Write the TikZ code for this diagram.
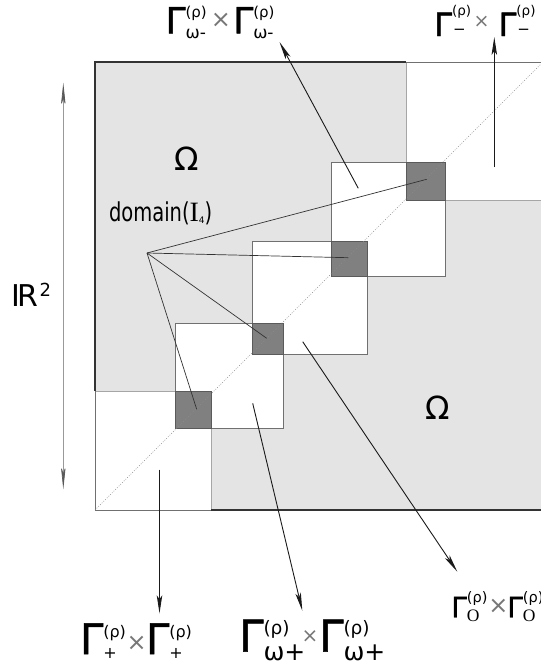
\documentclass[tikz,border=0pt]{standalone}
\usepackage{fontspec}
\setmainfont{DejaVu Sans}
\newfontfamily\dfont[FakeStretch=0.75]{DejaVu Sans}
\newfontfamily\gfont[FakeBold=1.2]{DejaVu Sans}
\newfontfamily\serfont{Liberation Serif}
\usetikzlibrary{arrows.meta}
\definecolor{regiongray}{HTML}{E4E4E4}
\definecolor{darksq}{HTML}{808080}
\definecolor{edgegray}{HTML}{707070}
\definecolor{xgray}{HTML}{777777}
\definecolor{inkline}{HTML}{1A1A1A}

\newcommand\Gsym[1]{{\gfont\fontsize{#1}{#1}\selectfont Γ}}
% #1 Gamma size, #2 sup size, #3 sup raise, #4 sub content, #5 sub size, #6 sub raise
\newcommand\GRho[6]{\Gsym{#1}%
  \setbox0\hbox{\raisebox{#3}{\fontsize{#2}{#2}\selectfont (ρ)}}%
  \setbox2\hbox{\raisebox{#6}{\fontsize{#5}{#5}\selectfont #4}}%
  \ifdim\wd0>\wd2 \rlap{\copy2}\copy0 \else \rlap{\copy0}\copy2 \fi}
\newcommand\Xs[1]{{\fontsize{#1}{#1}\selectfont\color{xgray}×}}

\begin{document}
\begin{tikzpicture}[x=1pt,y=-1pt,
  txt/.style={inner sep=0pt, outer sep=0pt, anchor=base west},
  sqbox/.style={fill=white, draw=edgegray, line width=0.9pt},
  darkbox/.style={fill=darksq, draw=edgegray!80!black, line width=0.9pt},
  border/.style={draw=black!80, line width=1.3pt},
  lightborder/.style={draw=edgegray, line width=0.9pt},
  seam/.style={draw=black!35, line width=0.8pt},
  focal/.style={draw=black!80, line width=0.7pt},
  pointer/.style={draw=inkline, line width=0.9pt, -{Stealth[length=18pt,width=5.5pt,inset=4pt]}},
  dimarrow/.style={draw=black!40, line width=0.7pt,
     {Stealth[length=24pt,width=5pt,inset=8pt,color=black!65]}-{Stealth[length=24pt,width=5pt,inset=8pt,color=black!65]}}
]
\useasboundingbox (0,0) rectangle (541,667);
\clip (0,0) rectangle (541,667);

% regions
\fill[regiongray] (95,62) rectangle (543,510);
\fill[white] (406,62) rectangle (543,200);
\fill[white] (95,391) rectangle (211,510);
\draw[seam] (406,62) -- (406,162);
\draw[seam] (445,200) -- (543,200);
\draw[seam] (95,391) -- (175,391);
\draw[seam] (211,428) -- (211,510);

% outer border
\draw[border] (406,62) -- (95,62) -- (95,391);
\draw[border] (211,510) -- (543,510);
\draw[lightborder] (406,62) -- (543,62);
\draw[lightborder] (95,391) -- (95,510) -- (211,510);

% white squares
\draw[sqbox] (175,323) rectangle (283,428);
\draw[sqbox] (252,241) rectangle (367,354);
\draw[sqbox] (331,162) rectangle (445,276);

% dark intersections
\draw[darkbox] (406,162) rectangle (445,200);
\draw[darkbox] (331,241) rectangle (367,276);
\draw[darkbox] (252,323) rectangle (283,354);
\draw[darkbox] (175,391) rectangle (211,428);

% diagonal
\coordinate (dg0) at (95,510);
\coordinate (dg1) at (543,62);
\draw[black!45, line width=0.6pt, dash pattern=on 0.8pt off 1.6pt] (dg0) -- (dg1);

% focal lines
\coordinate (f) at (147,253);
\coordinate (e1) at (426.7,179.3);
\coordinate (e2) at (348.3,257.7);
\coordinate (e3) at (266.7,338.3);
\coordinate (e4) at (196.7,409.3);
\draw[focal] (f) -- (e1);
\draw[focal] (f) -- (e2);
\draw[focal] (f) -- (e3);
\draw[focal] (f) -- (e4);

% pointer arrows
\coordinate (s1) at (358.3,188.3); \coordinate (t1) at (279.5,42);
\coordinate (s2) at (494.3,167);   \coordinate (t2) at (494.3,37);
\coordinate (s3) at (159.5,469.5); \coordinate (t3) at (159.5,613.3);
\coordinate (s4) at (252.7,403.3); \coordinate (t4) at (302.3,610.7);
\coordinate (s5) at (302.7,341.7); \coordinate (t5) at (457.3,571.7);
\draw[pointer] (s1) -- (t1);
\draw[pointer] (s2) -- (t2);
\draw[pointer] (s3) -- (t3);
\draw[pointer] (s4) -- (t4);
\draw[pointer] (s5) -- (t5);

% R^2 dimension arrow
\coordinate (rt) at (63.3,82.7);
\coordinate (rb) at (63.3,489.3);
\draw[dimarrow] (rt) -- (rb);

% texts
\node[txt] (R2) at (12,306.7) {{\fontsize{30}{30}\selectfont I\kern-3pt R}\kern1pt\raisebox{10.7pt}{\fontsize{18}{18}\selectfont 2}};
\node[inner sep=0pt] (om1) at (186.3,159) {\fontsize{32}{32}\selectfont Ω};
\node[inner sep=0pt] (om2) at (437.5,407.5) {\fontsize{32}{32}\selectfont Ω};
\node[txt] (dom) at (109,221.7) {{\dfont\fontsize{26}{26}\selectfont domain(}{\serfont\fontsize{28}{28}\selectfont I}\raisebox{-2pt}{\fontsize{9}{9}\selectfont 4}{\dfont\fontsize{26}{26}\selectfont )}};

% label 1: omega-
\node[txt] (l1a) at (165.5,33.3) {\GRho{36}{15}{15.5pt}{ω-}{17}{-4.7pt}};
\node[inner sep=0pt] (l1x) at (221,20) {\Xs{24}};
\node[txt] (l1b) at (233.2,33.3) {\GRho{36}{15}{15.5pt}{ω-}{17}{-4.7pt}};
% label 2: minus
\node[txt] (l2a) at (434.2,36) {\GRho{32}{13.5}{20.5pt}{\kern1pt−}{15}{1.8pt}};
\node[inner sep=0pt] (l2x) at (481.7,21.7) {\Xs{19}};
\node[txt] (l2b) at (498.6,36) {\GRho{32}{13.5}{20.5pt}{\kern1pt−}{15}{1.8pt}};
% label 3: plus
\node[txt] (l3a) at (79.9,654) {\GRho{42}{16}{16.8pt}{+}{16}{-4.4pt}};
\node[inner sep=0pt] (l3x) at (136.7,643) {\Xs{24}};
\node[txt] (l3b) at (145.9,654) {\GRho{42}{16}{16.8pt}{+}{16}{-4.4pt}};
% label 4: omega+
\node[txt] (l4a) at (239,651.7) {\GRho{44}{18.5}{17.6pt}{ω+}{25}{-8.3pt}};
\node[inner sep=0pt] (l4x) at (310,637) {\Xs{20}};
\node[txt] (l4b) at (319,651.7) {\GRho{44}{18.5}{17.6pt}{ω+}{25}{-8.3pt}};
% label 5: O
\node[txt] (l5a) at (451.3,617.3) {\GRho{28}{14.5}{14.6pt}{\serfont O}{17.5}{-4.4pt}};
\node[inner sep=0pt] (l5x) at (498.3,606) {\Xs{24}};
\node[txt] (l5b) at (507.3,617.3) {\GRho{28}{14.5}{14.6pt}{\serfont O}{17.5}{-4.4pt}};
\end{tikzpicture}
\end{document}
